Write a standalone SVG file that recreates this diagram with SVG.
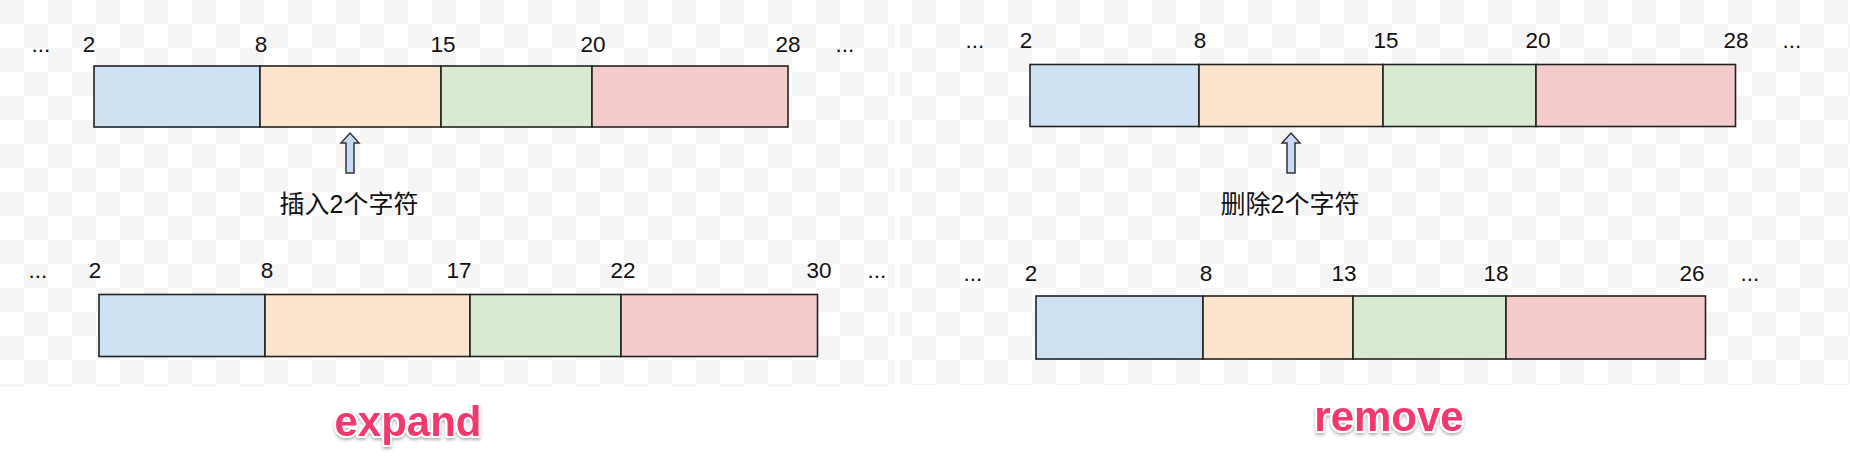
<svg xmlns="http://www.w3.org/2000/svg" width="1850" height="470" viewBox="0 0 1850 470">
<defs>
<pattern id="chk" width="48" height="48" patternUnits="userSpaceOnUse">
<rect width="48" height="48" fill="#ffffff"/>
<rect x="0" y="0" width="24" height="24" fill="#f5f5f5"/>
<rect x="24" y="24" width="24" height="24" fill="#f5f5f5"/>
</pattern>
<filter id="shadow" x="-10%" y="-30%" width="120%" height="170%">
<feDropShadow dx="0" dy="2" stdDeviation="1.5" flood-color="#000" flood-opacity="0.3"/>
</filter>
</defs>
<style>
.seg{stroke:#222;stroke-width:1.6}
.blue{fill:#cfe2f3}.orange{fill:#fce5cd}.green{fill:#d9ead3}.pink{fill:#f4cccc}
.num{font-family:"Liberation Sans",Arial,sans-serif;font-size:22.5px;fill:#111;text-anchor:middle}
.cjk{font-family:"Liberation Sans","Noto Sans CJK SC",sans-serif;font-size:25px;fill:#111;text-anchor:middle}
.arrow{fill:#c9daf8;stroke:#333;stroke-width:1.5}
.title{font-family:"Liberation Sans",Arial,sans-serif;font-weight:bold;font-size:42px;fill:#f2386c;stroke:#fff;stroke-width:4;paint-order:stroke;stroke-linejoin:round;text-anchor:middle;filter:url(#shadow)}
</style>
<rect width="1850" height="470" fill="#fff"/>
<rect x="0" y="0" width="895" height="387" fill="url(#chk)"/>
<rect x="900" y="0" width="950" height="385" fill="url(#chk)"/>

<g id="expand-before">
<rect id="eb1" class="seg blue" x="94" y="66" width="166" height="61"/>
<rect id="eb2" class="seg orange" x="260" y="66" width="181" height="61"/>
<rect id="eb3" class="seg green" x="441" y="66" width="151" height="61"/>
<rect id="eb4" class="seg pink" x="592" y="66" width="196" height="61"/>
<text class="num" x="41" y="51.5">...</text>
<text class="num" x="89" y="51.5">2</text>
<text class="num" x="261" y="51.5">8</text>
<text class="num" x="443" y="51.5">15</text>
<text class="num" x="593" y="51.5">20</text>
<text class="num" x="788" y="51.5">28</text>
<text class="num" x="845" y="51.5">...</text>
</g>

<g id="expand-after">
<rect id="ea1" class="seg blue" x="99" y="294.5" width="166" height="62"/>
<rect id="ea2" class="seg orange" x="265" y="294.5" width="205" height="62"/>
<rect id="ea3" class="seg green" x="470" y="294.5" width="151" height="62"/>
<rect id="ea4" class="seg pink" x="621" y="294.5" width="196.5" height="62"/>
<text class="num" x="38" y="278.3">...</text>
<text class="num" x="95" y="278.3">2</text>
<text class="num" x="267" y="278.3">8</text>
<text class="num" x="459" y="278.3">17</text>
<text class="num" x="623" y="278.3">22</text>
<text class="num" x="819" y="278.3">30</text>
<text class="num" x="877" y="278.3">...</text>
</g>

<g id="remove-before">
<rect id="rb1" class="seg blue" x="1030" y="64.5" width="169" height="62"/>
<rect id="rb2" class="seg orange" x="1199" y="64.5" width="184" height="62"/>
<rect id="rb3" class="seg green" x="1383" y="64.5" width="153" height="62"/>
<rect id="rb4" class="seg pink" x="1536" y="64.5" width="199.5" height="62"/>
<text class="num" x="975" y="48.3">...</text>
<text class="num" x="1026" y="48.3">2</text>
<text class="num" x="1200" y="48.3">8</text>
<text class="num" x="1386" y="48.3">15</text>
<text class="num" x="1538" y="48.3">20</text>
<text class="num" x="1736" y="48.3">28</text>
<text class="num" x="1792" y="48.3">...</text>
</g>

<g id="remove-after">
<rect id="ra1" class="seg blue" x="1036" y="296" width="167" height="63"/>
<rect id="ra2" class="seg orange" x="1203" y="296" width="150" height="63"/>
<rect id="ra3" class="seg green" x="1353" y="296" width="153" height="63"/>
<rect id="ra4" class="seg pink" x="1506" y="296" width="199.5" height="63"/>
<text class="num" x="973" y="280.7">...</text>
<text class="num" x="1031" y="280.7">2</text>
<text class="num" x="1206" y="280.7">8</text>
<text class="num" x="1344" y="280.7">13</text>
<text class="num" x="1496" y="280.7">18</text>
<text class="num" x="1692" y="280.7">26</text>
<text class="num" x="1750" y="280.7">...</text>
</g>

<g id="connectors">
<path id="arrow-insert" class="arrow" d="M346,173 L346,143 L341,143 L350,133 L359,143 L354,143 L354,173 Z"/>
<path id="arrow-delete" class="arrow" d="M1287,173 L1287,143 L1282,143 L1291,133 L1300,143 L1295,143 L1295,173 Z"/>
</g>

<g id="label-insert"><text class="cjk" x="349" y="213">插入2个字符</text></g>
<g id="label-delete"><text class="cjk" x="1290" y="213">删除2个字符</text></g>

<g id="title-expand"><text class="title" x="408" y="435.5">expand</text></g>
<g id="title-remove"><text class="title" x="1389" y="431">remove</text></g>
</svg>
